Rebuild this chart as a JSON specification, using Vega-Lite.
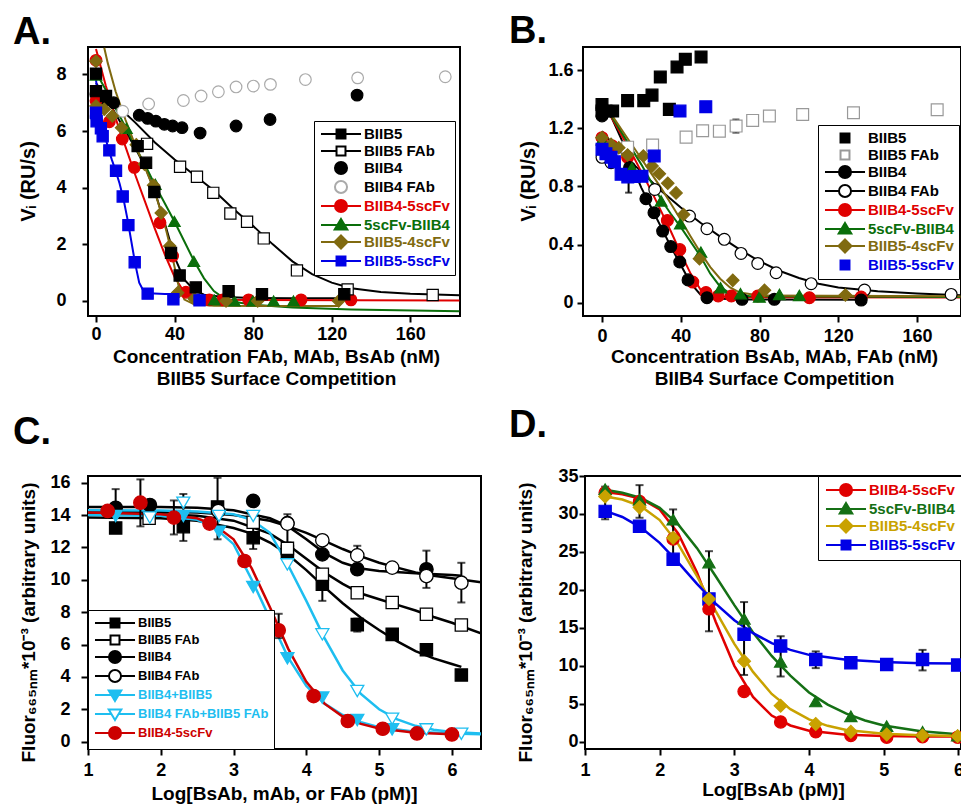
{
"$schema": "https://vega.github.io/schema/vega-lite/v6.json",
"padding": {"left": 12, "top": 12, "right": 0, "bottom": 0},
"spacing": 17,
"resolve": {"scale": {"fill": "independent", "stroke": "independent", "shape": "independent"}, "legend": {"fill": "independent", "stroke": "independent", "shape": "independent"}},
"config": {
  "font": "Liberation Sans",
  "view": {"stroke": "black", "strokeWidth": 2},
  "axis": {"grid": false, "domain": false, "labelFont": "Liberation Sans", "labelFontWeight": "bold", "labelFontSize": 18, "labelColor": "black", "titleFont": "Liberation Sans", "titleFontWeight": "bold", "titleFontSize": 19, "titleColor": "black", "tickColor": "black", "tickWidth": 2, "labelFlush": false, "labelOverlap": false},
  "title": {"font": "Liberation Sans", "fontWeight": "bold", "fontSize": 38, "anchor": "start", "frame": "group", "baseline": "alphabetic", "color": "black"},
  "legend": {"labelFont": "Liberation Sans", "labelFontWeight": "bold", "labelFontSize": 15, "labelLimit": 300, "symbolSize": 196, "symbolStrokeWidth": 2, "symbolOffset": 14, "labelOffset": 15, "rowPadding": -7, "padding": 5, "fillColor": "white", "strokeColor": "black", "symbolOpacity": 1}
},
"datasets": {
"aCurve": [
{"s":"BIIB5","x":0,"y":7.7},{"s":"BIIB5","x":5,"y":7.2},{"s":"BIIB5","x":10,"y":6.6},{"s":"BIIB5","x":15,"y":6.0},{"s":"BIIB5","x":20,"y":5.4},{"s":"BIIB5","x":25,"y":4.75},{"s":"BIIB5","x":30,"y":3.85},{"s":"BIIB5","x":35,"y":2.75},{"s":"BIIB5","x":40,"y":1.55},{"s":"BIIB5","x":45,"y":0.75},{"s":"BIIB5","x":50,"y":0.38},{"s":"BIIB5","x":55,"y":0.22},{"s":"BIIB5","x":65,"y":0.14},{"s":"BIIB5","x":80,"y":0.11},{"s":"BIIB5","x":100,"y":0.1},{"s":"BIIB5","x":130,"y":0.1},
{"s":"BIIB5 FAb","x":0,"y":7.5},{"s":"BIIB5 FAb","x":10,"y":6.95},{"s":"BIIB5 FAb","x":20,"y":6.3},{"s":"BIIB5 FAb","x":30,"y":5.6},{"s":"BIIB5 FAb","x":40,"y":5.0},{"s":"BIIB5 FAb","x":50,"y":4.45},{"s":"BIIB5 FAb","x":60,"y":3.9},{"s":"BIIB5 FAb","x":70,"y":3.25},{"s":"BIIB5 FAb","x":80,"y":2.65},{"s":"BIIB5 FAb","x":90,"y":2.0},{"s":"BIIB5 FAb","x":100,"y":1.4},{"s":"BIIB5 FAb","x":110,"y":0.95},{"s":"BIIB5 FAb","x":120,"y":0.65},{"s":"BIIB5 FAb","x":130,"y":0.45},{"s":"BIIB5 FAb","x":145,"y":0.32},{"s":"BIIB5 FAb","x":160,"y":0.26},{"s":"BIIB5 FAb","x":185,"y":0.2},
{"s":"BIIB4-5scFv","x":0,"y":8.9},{"s":"BIIB4-5scFv","x":5,"y":7.6},{"s":"BIIB4-5scFv","x":10,"y":6.45},{"s":"BIIB4-5scFv","x":15,"y":5.45},{"s":"BIIB4-5scFv","x":20,"y":4.45},{"s":"BIIB4-5scFv","x":25,"y":3.5},{"s":"BIIB4-5scFv","x":30,"y":2.55},{"s":"BIIB4-5scFv","x":35,"y":1.65},{"s":"BIIB4-5scFv","x":40,"y":0.85},{"s":"BIIB4-5scFv","x":45,"y":0.3},{"s":"BIIB4-5scFv","x":50,"y":0.1},{"s":"BIIB4-5scFv","x":60,"y":0.04},{"s":"BIIB4-5scFv","x":185,"y":0.02},
{"s":"5scFv-BIIB4","x":-1,"y":8.2},{"s":"5scFv-BIIB4","x":5,"y":7.45},{"s":"5scFv-BIIB4","x":10,"y":6.8},{"s":"5scFv-BIIB4","x":15,"y":6.15},{"s":"5scFv-BIIB4","x":20,"y":5.45},{"s":"5scFv-BIIB4","x":25,"y":4.8},{"s":"5scFv-BIIB4","x":30,"y":4.1},{"s":"5scFv-BIIB4","x":35,"y":3.45},{"s":"5scFv-BIIB4","x":40,"y":2.8},{"s":"5scFv-BIIB4","x":45,"y":2.1},{"s":"5scFv-BIIB4","x":50,"y":1.4},{"s":"5scFv-BIIB4","x":55,"y":0.8},{"s":"5scFv-BIIB4","x":60,"y":0.35},{"s":"5scFv-BIIB4","x":65,"y":0.1},{"s":"5scFv-BIIB4","x":70,"y":-0.03},{"s":"5scFv-BIIB4","x":80,"y":-0.13},{"s":"5scFv-BIIB4","x":100,"y":-0.23},{"s":"5scFv-BIIB4","x":130,"y":-0.3},{"s":"5scFv-BIIB4","x":185,"y":-0.36},
{"s":"BIIB5-4scFv","x":4.2,"y":8.94},{"s":"BIIB5-4scFv","x":6,"y":8.4},{"s":"BIIB5-4scFv","x":10,"y":7.4},{"s":"BIIB5-4scFv","x":15,"y":6.4},{"s":"BIIB5-4scFv","x":20,"y":5.5},{"s":"BIIB5-4scFv","x":25,"y":4.7},{"s":"BIIB5-4scFv","x":30,"y":3.85},{"s":"BIIB5-4scFv","x":35,"y":2.7},{"s":"BIIB5-4scFv","x":38,"y":1.85},{"s":"BIIB5-4scFv","x":40,"y":1.2},{"s":"BIIB5-4scFv","x":42,"y":0.55},{"s":"BIIB5-4scFv","x":45,"y":0.05},{"s":"BIIB5-4scFv","x":50,"y":-0.12},{"s":"BIIB5-4scFv","x":60,"y":-0.17},{"s":"BIIB5-4scFv","x":124,"y":-0.18},
{"s":"BIIB5-5scFv","x":0,"y":7.8},{"s":"BIIB5-5scFv","x":2,"y":6.8},{"s":"BIIB5-5scFv","x":4,"y":6.0},{"s":"BIIB5-5scFv","x":6,"y":5.45},{"s":"BIIB5-5scFv","x":8,"y":5.0},{"s":"BIIB5-5scFv","x":10,"y":4.6},{"s":"BIIB5-5scFv","x":12,"y":4.15},{"s":"BIIB5-5scFv","x":14,"y":3.6},{"s":"BIIB5-5scFv","x":16,"y":2.9},{"s":"BIIB5-5scFv","x":18,"y":2.1},{"s":"BIIB5-5scFv","x":20,"y":1.3},{"s":"BIIB5-5scFv","x":22,"y":0.65},{"s":"BIIB5-5scFv","x":24,"y":0.38},{"s":"BIIB5-5scFv","x":27,"y":0.27},{"s":"BIIB5-5scFv","x":35,"y":0.25},{"s":"BIIB5-5scFv","x":53,"y":0.23}
],
"aPts": [
{"s":"BIIB4 FAb","x":0,"y":6.5},{"s":"BIIB4 FAb","x":13.6,"y":6.7},{"s":"BIIB4 FAb","x":26.8,"y":6.96},{"s":"BIIB4 FAb","x":44.5,"y":7.08},{"s":"BIIB4 FAb","x":53.5,"y":7.24},{"s":"BIIB4 FAb","x":62.3,"y":7.39},{"s":"BIIB4 FAb","x":71.3,"y":7.56},{"s":"BIIB4 FAb","x":80.1,"y":7.59},{"s":"BIIB4 FAb","x":88.8,"y":7.65},{"s":"BIIB4 FAb","x":106.6,"y":7.82},{"s":"BIIB4 FAb","x":133.2,"y":7.88},{"s":"BIIB4 FAb","x":177.8,"y":7.92},
{"s":"BIIB4","x":0,"y":7.3},{"s":"BIIB4","x":5,"y":7.1},{"s":"BIIB4","x":9,"y":7.0},{"s":"BIIB4","x":22,"y":6.56},{"s":"BIIB4","x":26.3,"y":6.45},{"s":"BIIB4","x":30.5,"y":6.35},{"s":"BIIB4","x":34.8,"y":6.24},{"s":"BIIB4","x":39,"y":6.18},{"s":"BIIB4","x":43.8,"y":6.12},{"s":"BIIB4","x":53,"y":5.93},{"s":"BIIB4","x":71.3,"y":6.18},{"s":"BIIB4","x":88.6,"y":6.41},{"s":"BIIB4","x":132.9,"y":7.27},
{"s":"BIIB5 FAb","x":26,"y":5.55},{"s":"BIIB5 FAb","x":42.8,"y":4.74},{"s":"BIIB5 FAb","x":51.4,"y":4.39},{"s":"BIIB5 FAb","x":59.7,"y":3.82},{"s":"BIIB5 FAb","x":68.4,"y":3.09},{"s":"BIIB5 FAb","x":76.9,"y":2.8},{"s":"BIIB5 FAb","x":85.4,"y":2.21},{"s":"BIIB5 FAb","x":102.3,"y":1.08},{"s":"BIIB5 FAb","x":128.1,"y":0.41},{"s":"BIIB5 FAb","x":171.4,"y":0.21},
{"s":"BIIB5","x":0,"y":8.03},{"s":"BIIB5","x":0,"y":7.41},{"s":"BIIB5","x":5.1,"y":7.24},{"s":"BIIB5","x":21.2,"y":5.47},{"s":"BIIB5","x":25.5,"y":4.88},{"s":"BIIB5","x":29.7,"y":3.85},{"s":"BIIB5","x":38.2,"y":1.7},{"s":"BIIB5","x":42.6,"y":0.9},{"s":"BIIB5","x":50.8,"y":0.48},{"s":"BIIB5","x":67.5,"y":0.35},{"s":"BIIB5","x":84.5,"y":0.24},{"s":"BIIB5","x":126.4,"y":0.24},
{"s":"5scFv-BIIB4","x":0,"y":7.98},{"s":"5scFv-BIIB4","x":15.5,"y":6.1},{"s":"5scFv-BIIB4","x":30.2,"y":4.12},{"s":"5scFv-BIIB4","x":39.9,"y":2.81},{"s":"5scFv-BIIB4","x":49.8,"y":1.4},{"s":"5scFv-BIIB4","x":60.2,"y":0.04},{"s":"5scFv-BIIB4","x":70.4,"y":0},{"s":"5scFv-BIIB4","x":79.8,"y":0},{"s":"5scFv-BIIB4","x":90.4,"y":0},{"s":"5scFv-BIIB4","x":100.5,"y":0},
{"s":"BIIB5-4scFv","x":0,"y":8.47},{"s":"BIIB5-4scFv","x":0,"y":6.89},{"s":"BIIB5-4scFv","x":4.2,"y":6.77},{"s":"BIIB5-4scFv","x":8.3,"y":6.53},{"s":"BIIB5-4scFv","x":13,"y":6.12},{"s":"BIIB5-4scFv","x":20.5,"y":5.52},{"s":"BIIB5-4scFv","x":24.7,"y":4.83},{"s":"BIIB5-4scFv","x":29.3,"y":4.09},{"s":"BIIB5-4scFv","x":33.2,"y":3.11},{"s":"BIIB5-4scFv","x":37.5,"y":1.94},{"s":"BIIB5-4scFv","x":41.6,"y":0.29},{"s":"BIIB5-4scFv","x":50,"y":0.08},{"s":"BIIB5-4scFv","x":66.2,"y":0},{"s":"BIIB5-4scFv","x":82.3,"y":0},{"s":"BIIB5-4scFv","x":123.5,"y":0},
{"s":"BIIB4-5scFv","x":0,"y":8.5},{"s":"BIIB4-5scFv","x":0,"y":7.07},{"s":"BIIB4-5scFv","x":6.8,"y":6.33},{"s":"BIIB4-5scFv","x":13.4,"y":5.72},{"s":"BIIB4-5scFv","x":19.5,"y":4.72},{"s":"BIIB4-5scFv","x":32.6,"y":2.76},{"s":"BIIB4-5scFv","x":39,"y":1.59},{"s":"BIIB4-5scFv","x":45.8,"y":0.31},{"s":"BIIB4-5scFv","x":57.7,"y":0.04},{"s":"BIIB4-5scFv","x":64.5,"y":0.04},{"s":"BIIB4-5scFv","x":77.7,"y":0.04},{"s":"BIIB4-5scFv","x":104.4,"y":0.04},{"s":"BIIB4-5scFv","x":129.8,"y":0.04},
{"s":"BIIB5-5scFv","x":0,"y":6.65},{"s":"BIIB5-5scFv","x":0.3,"y":6.35},{"s":"BIIB5-5scFv","x":2.5,"y":6.1},{"s":"BIIB5-5scFv","x":3.4,"y":5.82},{"s":"BIIB5-5scFv","x":6.8,"y":5.32},{"s":"BIIB5-5scFv","x":10.2,"y":4.6},{"s":"BIIB5-5scFv","x":13.6,"y":3.69},{"s":"BIIB5-5scFv","x":16.5,"y":2.68},{"s":"BIIB5-5scFv","x":19.7,"y":1.37},{"s":"BIIB5-5scFv","x":26.3,"y":0.26},{"s":"BIIB5-5scFv","x":39.4,"y":0.06},{"s":"BIIB5-5scFv","x":52.7,"y":0.02}
],
"bCurve": [
{"s":"BIIB4","x":0,"y":1.37},{"s":"BIIB4","x":5,"y":1.27},{"s":"BIIB4","x":10,"y":1.12},{"s":"BIIB4","x":15,"y":0.95},{"s":"BIIB4","x":20,"y":0.79},{"s":"BIIB4","x":25,"y":0.655},{"s":"BIIB4","x":30,"y":0.52},{"s":"BIIB4","x":35,"y":0.385},{"s":"BIIB4","x":40,"y":0.26},{"s":"BIIB4","x":45,"y":0.135},{"s":"BIIB4","x":50,"y":0.055},{"s":"BIIB4","x":55,"y":0.03},{"s":"BIIB4","x":70,"y":0.022},{"s":"BIIB4","x":132,"y":0.02},
{"s":"BIIB4 FAb","x":0,"y":1.18},{"s":"BIIB4 FAb","x":5,"y":1.1},{"s":"BIIB4 FAb","x":10,"y":1.03},{"s":"BIIB4 FAb","x":20,"y":0.9},{"s":"BIIB4 FAb","x":30,"y":0.77},{"s":"BIIB4 FAb","x":40,"y":0.655},{"s":"BIIB4 FAb","x":50,"y":0.55},{"s":"BIIB4 FAb","x":60,"y":0.455},{"s":"BIIB4 FAb","x":70,"y":0.365},{"s":"BIIB4 FAb","x":80,"y":0.285},{"s":"BIIB4 FAb","x":90,"y":0.22},{"s":"BIIB4 FAb","x":100,"y":0.17},{"s":"BIIB4 FAb","x":110,"y":0.13},{"s":"BIIB4 FAb","x":120,"y":0.105},{"s":"BIIB4 FAb","x":140,"y":0.078},{"s":"BIIB4 FAb","x":160,"y":0.063},{"s":"BIIB4 FAb","x":182,"y":0.052},
{"s":"BIIB4-5scFv","x":0,"y":1.38},{"s":"BIIB4-5scFv","x":5,"y":1.27},{"s":"BIIB4-5scFv","x":10,"y":1.15},{"s":"BIIB4-5scFv","x":15,"y":1.03},{"s":"BIIB4-5scFv","x":20,"y":0.9},{"s":"BIIB4-5scFv","x":25,"y":0.77},{"s":"BIIB4-5scFv","x":30,"y":0.63},{"s":"BIIB4-5scFv","x":35,"y":0.49},{"s":"BIIB4-5scFv","x":40,"y":0.34},{"s":"BIIB4-5scFv","x":45,"y":0.2},{"s":"BIIB4-5scFv","x":50,"y":0.09},{"s":"BIIB4-5scFv","x":55,"y":0.05},{"s":"BIIB4-5scFv","x":65,"y":0.038},{"s":"BIIB4-5scFv","x":182,"y":0.035},
{"s":"5scFv-BIIB4","x":0,"y":1.38},{"s":"5scFv-BIIB4","x":5,"y":1.28},{"s":"5scFv-BIIB4","x":10,"y":1.17},{"s":"5scFv-BIIB4","x":15,"y":1.06},{"s":"5scFv-BIIB4","x":20,"y":0.95},{"s":"5scFv-BIIB4","x":25,"y":0.83},{"s":"5scFv-BIIB4","x":30,"y":0.71},{"s":"5scFv-BIIB4","x":35,"y":0.61},{"s":"5scFv-BIIB4","x":40,"y":0.52},{"s":"5scFv-BIIB4","x":45,"y":0.42},{"s":"5scFv-BIIB4","x":50,"y":0.32},{"s":"5scFv-BIIB4","x":55,"y":0.2},{"s":"5scFv-BIIB4","x":60,"y":0.11},{"s":"5scFv-BIIB4","x":65,"y":0.065},{"s":"5scFv-BIIB4","x":75,"y":0.045},{"s":"5scFv-BIIB4","x":182,"y":0.04},
{"s":"BIIB5-4scFv","x":0,"y":1.39},{"s":"BIIB5-4scFv","x":5,"y":1.29},{"s":"BIIB5-4scFv","x":10,"y":1.19},{"s":"BIIB5-4scFv","x":15,"y":1.09},{"s":"BIIB5-4scFv","x":20,"y":0.99},{"s":"BIIB5-4scFv","x":25,"y":0.89},{"s":"BIIB5-4scFv","x":30,"y":0.79},{"s":"BIIB5-4scFv","x":35,"y":0.68},{"s":"BIIB5-4scFv","x":40,"y":0.57},{"s":"BIIB5-4scFv","x":45,"y":0.455},{"s":"BIIB5-4scFv","x":50,"y":0.345},{"s":"BIIB5-4scFv","x":55,"y":0.245},{"s":"BIIB5-4scFv","x":60,"y":0.165},{"s":"BIIB5-4scFv","x":65,"y":0.105},{"s":"BIIB5-4scFv","x":70,"y":0.07},{"s":"BIIB5-4scFv","x":80,"y":0.05},{"s":"BIIB5-4scFv","x":182,"y":0.045}
],
"bPts": [
{"s":"BIIB5 FAb","x":13,"y":1.07},{"s":"BIIB5 FAb","x":25.7,"y":1.084},{"s":"BIIB5 FAb","x":42.7,"y":1.139},{"s":"BIIB5 FAb","x":51.1,"y":1.183},{"s":"BIIB5 FAb","x":59.6,"y":1.18},{"s":"BIIB5 FAb","x":68.1,"y":1.215},{"s":"BIIB5 FAb","x":76.5,"y":1.254},{"s":"BIIB5 FAb","x":85,"y":1.284},{"s":"BIIB5 FAb","x":101.9,"y":1.295},{"s":"BIIB5 FAb","x":127.7,"y":1.307},{"s":"BIIB5 FAb","x":170.2,"y":1.327},
{"s":"BIIB4 FAb","x":0,"y":1.0},{"s":"BIIB4 FAb","x":4.6,"y":0.963},{"s":"BIIB4 FAb","x":26.8,"y":0.779},{"s":"BIIB4 FAb","x":44.4,"y":0.596},{"s":"BIIB4 FAb","x":53.3,"y":0.509},{"s":"BIIB4 FAb","x":62.1,"y":0.436},{"s":"BIIB4 FAb","x":70.6,"y":0.339},{"s":"BIIB4 FAb","x":79.1,"y":0.27},{"s":"BIIB4 FAb","x":88.4,"y":0.206},{"s":"BIIB4 FAb","x":106.2,"y":0.131},{"s":"BIIB4 FAb","x":133.3,"y":0.087},{"s":"BIIB4 FAb","x":177.3,"y":0.057},
{"s":"BIIB5","x":0,"y":1.364},{"s":"BIIB5","x":0,"y":1.318},{"s":"BIIB5","x":5.4,"y":1.318},{"s":"BIIB5","x":13,"y":1.39},{"s":"BIIB5","x":21.2,"y":1.39},{"s":"BIIB5","x":25.4,"y":1.428},{"s":"BIIB5","x":29.6,"y":1.552},{"s":"BIIB5","x":34.2,"y":1.33},{"s":"BIIB5","x":38.1,"y":1.621},{"s":"BIIB5","x":42.3,"y":1.674},{"s":"BIIB5","x":50.3,"y":1.69},
{"s":"BIIB5-4scFv","x":0,"y":1.135},{"s":"BIIB5-4scFv","x":4.6,"y":1.089},{"s":"BIIB5-4scFv","x":8.5,"y":1.066},{"s":"BIIB5-4scFv","x":13,"y":1.016},{"s":"BIIB5-4scFv","x":21,"y":1.009},{"s":"BIIB5-4scFv","x":25.4,"y":0.94},{"s":"BIIB5-4scFv","x":29.1,"y":0.887},{"s":"BIIB5-4scFv","x":33.4,"y":0.822},{"s":"BIIB5-4scFv","x":37.6,"y":0.755},{"s":"BIIB5-4scFv","x":41.4,"y":0.606},{"s":"BIIB5-4scFv","x":49.5,"y":0.302},{"s":"BIIB5-4scFv","x":66.4,"y":0.154},{"s":"BIIB5-4scFv","x":82.5,"y":0.085},{"s":"BIIB5-4scFv","x":123.6,"y":0.053},
{"s":"5scFv-BIIB4","x":0,"y":1.12},{"s":"5scFv-BIIB4","x":15.2,"y":0.928},{"s":"5scFv-BIIB4","x":30,"y":0.7},{"s":"5scFv-BIIB4","x":39.8,"y":0.543},{"s":"5scFv-BIIB4","x":50.2,"y":0.348},{"s":"5scFv-BIIB4","x":60.2,"y":0.103},{"s":"5scFv-BIIB4","x":70.3,"y":0.062},{"s":"5scFv-BIIB4","x":79.9,"y":0.039},{"s":"5scFv-BIIB4","x":90.1,"y":0.057},{"s":"5scFv-BIIB4","x":100.2,"y":0.05},
{"s":"BIIB4-5scFv","x":0,"y":1.135},{"s":"BIIB4-5scFv","x":5,"y":1.08},{"s":"BIIB4-5scFv","x":13,"y":1.0},{"s":"BIIB4-5scFv","x":33.2,"y":0.566},{"s":"BIIB4-5scFv","x":39.5,"y":0.365},{"s":"BIIB4-5scFv","x":46.1,"y":0.142},{"s":"BIIB4-5scFv","x":52.8,"y":0.07},{"s":"BIIB4-5scFv","x":59,"y":0.046},{"s":"BIIB4-5scFv","x":65.7,"y":0.046},{"s":"BIIB4-5scFv","x":79.1,"y":0.046},{"s":"BIIB4-5scFv","x":105.3,"y":0.034},{"s":"BIIB4-5scFv","x":131.6,"y":0.039},
{"s":"BIIB4","x":0,"y":1.34},{"s":"BIIB4","x":0,"y":1.285},{"s":"BIIB4","x":4.6,"y":1.318},{"s":"BIIB4","x":14,"y":0.93},{"s":"BIIB4","x":22.3,"y":0.715},{"s":"BIIB4","x":26.4,"y":0.619},{"s":"BIIB4","x":30.8,"y":0.493},{"s":"BIIB4","x":34.9,"y":0.386},{"s":"BIIB4","x":39.5,"y":0.28},{"s":"BIIB4","x":43.7,"y":0.157},{"s":"BIIB4","x":53.3,"y":0.034},{"s":"BIIB4","x":71.1,"y":0.023},{"s":"BIIB4","x":87.5,"y":0.023},{"s":"BIIB4","x":131.6,"y":0.018},
{"s":"BIIB5-5scFv","x":0,"y":1.055},{"s":"BIIB5-5scFv","x":2,"y":1.025},{"s":"BIIB5-5scFv","x":4.6,"y":1.0},{"s":"BIIB5-5scFv","x":6.3,"y":0.97},{"s":"BIIB5-5scFv","x":9.7,"y":0.883},{"s":"BIIB5-5scFv","x":13.1,"y":0.865},{"s":"BIIB5-5scFv","x":16.5,"y":0.868},{"s":"BIIB5-5scFv","x":20.3,"y":0.87},{"s":"BIIB5-5scFv","x":26.5,"y":1.009},{"s":"BIIB5-5scFv","x":39.6,"y":1.318},{"s":"BIIB5-5scFv","x":52.7,"y":1.348}
],
"bErr": [{"x":13.5,"y":0.757,"y2":0.93},{"x":68,"y":1.17,"y2":1.26}],
"cCurve": [
{"s":"BIIB5","x":1,"y":13.85},{"s":"BIIB5","x":2,"y":13.8},{"s":"BIIB5","x":2.5,"y":13.65},{"s":"BIIB5","x":3,"y":13.2},{"s":"BIIB5","x":3.25,"y":12.85},{"s":"BIIB5","x":3.5,"y":12.3},{"s":"BIIB5","x":3.75,"y":11.55},{"s":"BIIB5","x":4,"y":10.6},{"s":"BIIB5","x":4.25,"y":9.55},{"s":"BIIB5","x":4.5,"y":8.55},{"s":"BIIB5","x":4.75,"y":7.65},{"s":"BIIB5","x":5,"y":6.9},{"s":"BIIB5","x":5.25,"y":6.2},{"s":"BIIB5","x":5.5,"y":5.6},{"s":"BIIB5","x":5.75,"y":5.15},{"s":"BIIB5","x":6,"y":4.8},{"s":"BIIB5","x":6.13,"y":4.62},
{"s":"BIIB5 FAb","x":1,"y":14.1},{"s":"BIIB5 FAb","x":2,"y":14.05},{"s":"BIIB5 FAb","x":2.5,"y":13.95},{"s":"BIIB5 FAb","x":3,"y":13.65},{"s":"BIIB5 FAb","x":3.5,"y":12.85},{"s":"BIIB5 FAb","x":3.75,"y":12.15},{"s":"BIIB5 FAb","x":4,"y":11.3},{"s":"BIIB5 FAb","x":4.25,"y":10.45},{"s":"BIIB5 FAb","x":4.5,"y":9.75},{"s":"BIIB5 FAb","x":4.75,"y":9.15},{"s":"BIIB5 FAb","x":5,"y":8.8},{"s":"BIIB5 FAb","x":5.25,"y":8.45},{"s":"BIIB5 FAb","x":5.5,"y":8.1},{"s":"BIIB5 FAb","x":5.75,"y":7.7},{"s":"BIIB5 FAb","x":6,"y":7.35},{"s":"BIIB5 FAb","x":6.4,"y":6.7},
{"s":"BIIB4","x":1,"y":14.5},{"s":"BIIB4","x":2,"y":14.5},{"s":"BIIB4","x":2.5,"y":14.45},{"s":"BIIB4","x":3,"y":14.3},{"s":"BIIB4","x":3.5,"y":13.8},{"s":"BIIB4","x":3.75,"y":13.3},{"s":"BIIB4","x":4,"y":12.5},{"s":"BIIB4","x":4.25,"y":11.65},{"s":"BIIB4","x":4.5,"y":11.05},{"s":"BIIB4","x":4.75,"y":10.7},{"s":"BIIB4","x":5,"y":10.55},{"s":"BIIB4","x":5.5,"y":10.4},{"s":"BIIB4","x":6,"y":10.3},{"s":"BIIB4","x":6.13,"y":10.25},
{"s":"BIIB4 FAb","x":1,"y":14.2},{"s":"BIIB4 FAb","x":2,"y":14.2},{"s":"BIIB4 FAb","x":2.5,"y":14.15},{"s":"BIIB4 FAb","x":3,"y":14.0},{"s":"BIIB4 FAb","x":3.5,"y":13.65},{"s":"BIIB4 FAb","x":3.75,"y":13.3},{"s":"BIIB4 FAb","x":4,"y":12.9},{"s":"BIIB4 FAb","x":4.25,"y":12.4},{"s":"BIIB4 FAb","x":4.5,"y":11.9},{"s":"BIIB4 FAb","x":4.75,"y":11.45},{"s":"BIIB4 FAb","x":5,"y":11.05},{"s":"BIIB4 FAb","x":5.25,"y":10.75},{"s":"BIIB4 FAb","x":5.5,"y":10.45},{"s":"BIIB4 FAb","x":5.75,"y":10.25},{"s":"BIIB4 FAb","x":6,"y":10.1},{"s":"BIIB4 FAb","x":6.4,"y":9.85},
{"s":"BIIB4 FAb+BIIB5 FAb","x":1,"y":14.3},{"s":"BIIB4 FAb+BIIB5 FAb","x":2,"y":14.28},{"s":"BIIB4 FAb+BIIB5 FAb","x":2.5,"y":14.22},{"s":"BIIB4 FAb+BIIB5 FAb","x":3,"y":14.05},{"s":"BIIB4 FAb+BIIB5 FAb","x":3.25,"y":13.7},{"s":"BIIB4 FAb+BIIB5 FAb","x":3.5,"y":12.9},{"s":"BIIB4 FAb+BIIB5 FAb","x":3.75,"y":10.9},{"s":"BIIB4 FAb+BIIB5 FAb","x":4,"y":8.7},{"s":"BIIB4 FAb+BIIB5 FAb","x":4.25,"y":6.4},{"s":"BIIB4 FAb+BIIB5 FAb","x":4.5,"y":4.4},{"s":"BIIB4 FAb+BIIB5 FAb","x":4.75,"y":2.95},{"s":"BIIB4 FAb+BIIB5 FAb","x":5,"y":2.0},{"s":"BIIB4 FAb+BIIB5 FAb","x":5.25,"y":1.38},{"s":"BIIB4 FAb+BIIB5 FAb","x":5.5,"y":0.98},{"s":"BIIB4 FAb+BIIB5 FAb","x":5.75,"y":0.74},{"s":"BIIB4 FAb+BIIB5 FAb","x":6,"y":0.6},{"s":"BIIB4 FAb+BIIB5 FAb","x":6.4,"y":0.5},
{"s":"BIIB4+BIIB5","x":1,"y":14.0},{"s":"BIIB4+BIIB5","x":2,"y":13.95},{"s":"BIIB4+BIIB5","x":2.5,"y":13.7},{"s":"BIIB4+BIIB5","x":2.75,"y":13.2},{"s":"BIIB4+BIIB5","x":3,"y":12.2},{"s":"BIIB4+BIIB5","x":3.25,"y":10.0},{"s":"BIIB4+BIIB5","x":3.5,"y":7.6},{"s":"BIIB4+BIIB5","x":3.75,"y":5.2},{"s":"BIIB4+BIIB5","x":4,"y":3.45},{"s":"BIIB4+BIIB5","x":4.25,"y":2.35},{"s":"BIIB4+BIIB5","x":4.5,"y":1.65},{"s":"BIIB4+BIIB5","x":4.75,"y":1.2},{"s":"BIIB4+BIIB5","x":5,"y":0.9},{"s":"BIIB4+BIIB5","x":5.5,"y":0.62},{"s":"BIIB4+BIIB5","x":6,"y":0.5},{"s":"BIIB4+BIIB5","x":6.4,"y":0.46},
{"s":"BIIB4-5scFv","x":1,"y":14.15},{"s":"BIIB4-5scFv","x":2,"y":14.05},{"s":"BIIB4-5scFv","x":2.5,"y":13.8},{"s":"BIIB4-5scFv","x":2.75,"y":13.35},{"s":"BIIB4-5scFv","x":3,"y":12.5},{"s":"BIIB4-5scFv","x":3.25,"y":10.7},{"s":"BIIB4-5scFv","x":3.5,"y":8.3},{"s":"BIIB4-5scFv","x":3.75,"y":5.75},{"s":"BIIB4-5scFv","x":4,"y":3.7},{"s":"BIIB4-5scFv","x":4.25,"y":2.35},{"s":"BIIB4-5scFv","x":4.5,"y":1.55},{"s":"BIIB4-5scFv","x":4.75,"y":1.1},{"s":"BIIB4-5scFv","x":5,"y":0.82},{"s":"BIIB4-5scFv","x":5.5,"y":0.55},{"s":"BIIB4-5scFv","x":6,"y":0.46}
],
"cPts": [
{"s":"BIIB5","x":1.38,"y":13.2},{"s":"BIIB5","x":2.31,"y":13.28},{"s":"BIIB5","x":2.78,"y":14.5},{"s":"BIIB5","x":3.27,"y":12.6},{"s":"BIIB5","x":3.74,"y":11.75},{"s":"BIIB5","x":4.22,"y":9.72},{"s":"BIIB5","x":4.7,"y":7.23},{"s":"BIIB5","x":5.18,"y":6.63},{"s":"BIIB5","x":5.65,"y":5.68},{"s":"BIIB5","x":6.13,"y":4.12},
{"s":"BIIB5 FAb","x":1.84,"y":13.8},{"s":"BIIB5 FAb","x":3.27,"y":13.55},{"s":"BIIB5 FAb","x":3.74,"y":11.94},{"s":"BIIB5 FAb","x":4.22,"y":10.34},{"s":"BIIB5 FAb","x":4.7,"y":9.2},{"s":"BIIB5 FAb","x":5.18,"y":8.6},{"s":"BIIB5 FAb","x":5.65,"y":7.87},{"s":"BIIB5 FAb","x":6.13,"y":7.21},
{"s":"BIIB4","x":1.38,"y":14.45},{"s":"BIIB4","x":1.85,"y":14.62},{"s":"BIIB4","x":3.27,"y":14.87},{"s":"BIIB4","x":3.74,"y":13.5},{"s":"BIIB4","x":4.22,"y":11.57},{"s":"BIIB4","x":4.7,"y":10.65},{"s":"BIIB4","x":5.65,"y":10.65},
{"s":"BIIB4 FAb","x":2.79,"y":14.25},{"s":"BIIB4 FAb","x":3.74,"y":13.47},{"s":"BIIB4 FAb","x":4.22,"y":12.44},{"s":"BIIB4 FAb","x":4.7,"y":11.51},{"s":"BIIB4 FAb","x":5.18,"y":10.75},{"s":"BIIB4 FAb","x":5.65,"y":10.23},{"s":"BIIB4 FAb","x":6.13,"y":9.82},
{"s":"BIIB4+BIIB5","x":1.38,"y":13.94},{"s":"BIIB4+BIIB5","x":2.31,"y":13.94},{"s":"BIIB4+BIIB5","x":2.8,"y":12.97},{"s":"BIIB4+BIIB5","x":3.27,"y":9.55},{"s":"BIIB4+BIIB5","x":3.74,"y":5.15},{"s":"BIIB4+BIIB5","x":4.22,"y":2.72},{"s":"BIIB4+BIIB5","x":4.7,"y":1.34},{"s":"BIIB4+BIIB5","x":5.18,"y":0.76},
{"s":"BIIB4 FAb+BIIB5 FAb","x":1.85,"y":13.84},{"s":"BIIB4 FAb+BIIB5 FAb","x":2.31,"y":14.76},{"s":"BIIB4 FAb+BIIB5 FAb","x":2.8,"y":13.94},{"s":"BIIB4 FAb+BIIB5 FAb","x":3.27,"y":13.94},{"s":"BIIB4 FAb+BIIB5 FAb","x":3.74,"y":10.95},{"s":"BIIB4 FAb+BIIB5 FAb","x":4.22,"y":6.63},{"s":"BIIB4 FAb+BIIB5 FAb","x":4.7,"y":3.13},{"s":"BIIB4 FAb+BIIB5 FAb","x":5.18,"y":1.42},{"s":"BIIB4 FAb+BIIB5 FAb","x":5.65,"y":0.76},{"s":"BIIB4 FAb+BIIB5 FAb","x":6.13,"y":0.49},
{"s":"BIIB4-5scFv","x":1.27,"y":14.25},{"s":"BIIB4-5scFv","x":1.72,"y":14.76},{"s":"BIIB4-5scFv","x":2.18,"y":13.84},{"s":"BIIB4-5scFv","x":2.67,"y":13.47},{"s":"BIIB4-5scFv","x":3.15,"y":11.16},{"s":"BIIB4-5scFv","x":3.62,"y":6.88},{"s":"BIIB4-5scFv","x":4.1,"y":2.82},{"s":"BIIB4-5scFv","x":4.57,"y":1.28},{"s":"BIIB4-5scFv","x":5.05,"y":0.8},{"s":"BIIB4-5scFv","x":5.52,"y":0.51},{"s":"BIIB4-5scFv","x":6.0,"y":0.45}
],
"cErr": [{"x":1.38,"y":13.0,"y2":15.6},{"x":1.72,"y":13.3,"y2":16.2},{"x":2.18,"y":12.8,"y2":14.9},{"x":2.31,"y":12.4,"y2":15.3},{"x":2.78,"y":12.5,"y2":16.3},{"x":3.27,"y":11.9,"y2":13.6},{"x":3.74,"y":12.3,"y2":14.05},{"x":3.62,"y":6.4,"y2":7.9},{"x":4.22,"y":8.7,"y2":10.6},{"x":4.7,"y":11.0,"y2":12.1},{"x":4.7,"y":6.8,"y2":7.6},{"x":5.65,"y":9.5,"y2":11.8},{"x":5.65,"y":7.6,"y2":8.2},{"x":6.13,"y":8.6,"y2":11.05}],
"dCurve": [
{"s":"BIIB4-5scFv","x":1.27,"y":32.9},{"s":"BIIB4-5scFv","x":1.5,"y":32.6},{"s":"BIIB4-5scFv","x":1.75,"y":32.0},{"s":"BIIB4-5scFv","x":2,"y":30.6},{"s":"BIIB4-5scFv","x":2.25,"y":27.4},{"s":"BIIB4-5scFv","x":2.5,"y":22.3},{"s":"BIIB4-5scFv","x":2.75,"y":15.8},{"s":"BIIB4-5scFv","x":3,"y":10.0},{"s":"BIIB4-5scFv","x":3.25,"y":5.9},{"s":"BIIB4-5scFv","x":3.5,"y":3.45},{"s":"BIIB4-5scFv","x":3.75,"y":2.15},{"s":"BIIB4-5scFv","x":4,"y":1.45},{"s":"BIIB4-5scFv","x":4.5,"y":0.92},{"s":"BIIB4-5scFv","x":5,"y":0.75},{"s":"BIIB4-5scFv","x":5.5,"y":0.7},{"s":"BIIB4-5scFv","x":6.03,"y":0.68},
{"s":"5scFv-BIIB4","x":1.27,"y":33.2},{"s":"5scFv-BIIB4","x":1.5,"y":32.8},{"s":"5scFv-BIIB4","x":1.75,"y":32.1},{"s":"5scFv-BIIB4","x":2,"y":30.8},{"s":"5scFv-BIIB4","x":2.25,"y":28.6},{"s":"5scFv-BIIB4","x":2.5,"y":25.5},{"s":"5scFv-BIIB4","x":2.75,"y":21.8},{"s":"5scFv-BIIB4","x":3,"y":18.0},{"s":"5scFv-BIIB4","x":3.25,"y":14.4},{"s":"5scFv-BIIB4","x":3.5,"y":11.3},{"s":"5scFv-BIIB4","x":3.75,"y":8.7},{"s":"5scFv-BIIB4","x":4,"y":6.5},{"s":"5scFv-BIIB4","x":4.25,"y":4.9},{"s":"5scFv-BIIB4","x":4.5,"y":3.7},{"s":"5scFv-BIIB4","x":4.75,"y":2.8},{"s":"5scFv-BIIB4","x":5,"y":2.15},{"s":"5scFv-BIIB4","x":5.5,"y":1.4},{"s":"5scFv-BIIB4","x":6.03,"y":0.95},
{"s":"BIIB5-4scFv","x":1.27,"y":32.3},{"s":"BIIB5-4scFv","x":1.5,"y":31.9},{"s":"BIIB5-4scFv","x":1.75,"y":31.0},{"s":"BIIB5-4scFv","x":2,"y":29.2},{"s":"BIIB5-4scFv","x":2.25,"y":26.0},{"s":"BIIB5-4scFv","x":2.5,"y":21.8},{"s":"BIIB5-4scFv","x":2.75,"y":17.2},{"s":"BIIB5-4scFv","x":3,"y":12.9},{"s":"BIIB5-4scFv","x":3.25,"y":9.2},{"s":"BIIB5-4scFv","x":3.5,"y":6.3},{"s":"BIIB5-4scFv","x":3.75,"y":4.3},{"s":"BIIB5-4scFv","x":4,"y":2.95},{"s":"BIIB5-4scFv","x":4.25,"y":2.1},{"s":"BIIB5-4scFv","x":4.5,"y":1.55},{"s":"BIIB5-4scFv","x":5,"y":1.05},{"s":"BIIB5-4scFv","x":5.5,"y":0.85},{"s":"BIIB5-4scFv","x":6.03,"y":0.75},
{"s":"BIIB5-5scFv","x":1.27,"y":30.4},{"s":"BIIB5-5scFv","x":1.5,"y":29.6},{"s":"BIIB5-5scFv","x":1.75,"y":28.2},{"s":"BIIB5-5scFv","x":2,"y":26.2},{"s":"BIIB5-5scFv","x":2.25,"y":23.6},{"s":"BIIB5-5scFv","x":2.5,"y":20.8},{"s":"BIIB5-5scFv","x":2.75,"y":18.2},{"s":"BIIB5-5scFv","x":3,"y":16.0},{"s":"BIIB5-5scFv","x":3.25,"y":14.3},{"s":"BIIB5-5scFv","x":3.5,"y":13.0},{"s":"BIIB5-5scFv","x":3.75,"y":12.1},{"s":"BIIB5-5scFv","x":4,"y":11.45},{"s":"BIIB5-5scFv","x":4.5,"y":10.8},{"s":"BIIB5-5scFv","x":5,"y":10.5},{"s":"BIIB5-5scFv","x":5.5,"y":10.35},{"s":"BIIB5-5scFv","x":6.03,"y":10.3}
],
"dPts": [
{"s":"BIIB5-5scFv","x":1.27,"y":30.34},{"s":"BIIB5-5scFv","x":1.73,"y":28.38},{"s":"BIIB5-5scFv","x":2.18,"y":24.03},{"s":"BIIB5-5scFv","x":2.66,"y":18.8},{"s":"BIIB5-5scFv","x":3.13,"y":14.15},{"s":"BIIB5-5scFv","x":3.62,"y":12.62},{"s":"BIIB5-5scFv","x":4.09,"y":10.84},{"s":"BIIB5-5scFv","x":4.56,"y":10.4},{"s":"BIIB5-5scFv","x":5.04,"y":10.19},{"s":"BIIB5-5scFv","x":5.52,"y":10.84},{"s":"BIIB5-5scFv","x":5.99,"y":10.1},
{"s":"BIIB4-5scFv","x":1.27,"y":32.8},{"s":"BIIB4-5scFv","x":1.73,"y":31.65},{"s":"BIIB4-5scFv","x":2.18,"y":26.7},{"s":"BIIB4-5scFv","x":2.66,"y":17.5},{"s":"BIIB4-5scFv","x":3.13,"y":6.62},{"s":"BIIB4-5scFv","x":3.62,"y":2.61},{"s":"BIIB4-5scFv","x":4.09,"y":1.31},{"s":"BIIB4-5scFv","x":4.56,"y":0.83},{"s":"BIIB4-5scFv","x":5.04,"y":0.61},{"s":"BIIB4-5scFv","x":5.52,"y":0.65},{"s":"BIIB4-5scFv","x":5.99,"y":0.61},
{"s":"5scFv-BIIB4","x":1.27,"y":33.26},{"s":"5scFv-BIIB4","x":1.73,"y":31.87},{"s":"5scFv-BIIB4","x":2.18,"y":29.26},{"s":"5scFv-BIIB4","x":2.66,"y":23.6},{"s":"5scFv-BIIB4","x":3.13,"y":16.2},{"s":"5scFv-BIIB4","x":3.62,"y":10.54},{"s":"5scFv-BIIB4","x":4.09,"y":5.31},{"s":"5scFv-BIIB4","x":4.56,"y":3.35},{"s":"5scFv-BIIB4","x":5.04,"y":2.05},{"s":"5scFv-BIIB4","x":5.52,"y":1.31},{"s":"5scFv-BIIB4","x":5.99,"y":0.83},
{"s":"BIIB5-4scFv","x":1.27,"y":32.3},{"s":"BIIB5-4scFv","x":1.73,"y":30.87},{"s":"BIIB5-4scFv","x":2.18,"y":26.86},{"s":"BIIB5-4scFv","x":2.66,"y":18.8},{"s":"BIIB5-4scFv","x":3.13,"y":10.62},{"s":"BIIB5-4scFv","x":3.62,"y":4.75},{"s":"BIIB5-4scFv","x":4.09,"y":2.35},{"s":"BIIB5-4scFv","x":4.56,"y":1.31},{"s":"BIIB5-4scFv","x":5.04,"y":0.96},{"s":"BIIB5-4scFv","x":5.52,"y":0.83},{"s":"BIIB5-4scFv","x":5.99,"y":0.74}
],
"dErr": [{"x":1.27,"y":29.3,"y2":33.6},{"x":1.73,"y":29.5,"y2":33.8},{"x":2.18,"y":24.5,"y2":30.6},{"x":2.66,"y":14.55,"y2":25.1},{"x":3.13,"y":8.8,"y2":18.4},{"x":3.62,"y":8.6,"y2":13.9},{"x":4.09,"y":9.7,"y2":11.9},{"x":5.52,"y":9.4,"y2":12.1}]
},
"vconcat": [
{"hconcat": [
{
 "width": 372, "height": 269,
 "title": {"text": "A.", "dx": -75, "offset": -5},
 "encoding": {
  "x": {"field": "x", "type": "quantitative", "scale": {"domain": [-4.07, 185.3], "nice": false, "zero": false},
        "axis": {"title": ["Concentration FAb, MAb, BsAb (nM)", "BIIB5 Surface Competition"], "titleLineHeight": 22, "titleX": 188, "titleY": 31, "values": [0,40,80,120,160], "tickSize": 6, "labelPadding": 3}},
  "y": {"field": "y", "type": "quantitative", "scale": {"domain": [-0.53, 8.97], "nice": false, "zero": false},
        "axis": {"title": "Vᵢ (RU/s)", "titleFontSize": 20, "titleX": -50, "titleY": 134, "values": [0,2,4,6,8], "tickSize": 6, "labelPadding": 16}}
 },
 "layer": [
  {"data": {"name": "aPts"}, "transform": [{"filter": "false"}], "mark": {"type": "point", "filled": true},
   "encoding": {
    "shape": {"field": "s", "type": "nominal",
      "scale": {"domain": ["BIIB5","BIIB5 FAb","BIIB4","BIIB4 FAb","BIIB4-5scFv","5scFv-BIIB4","BIIB5-4scFv","BIIB5-5scFv"], "range": ["M-2.86,0H-0.64M0.64,0H2.86M-0.64,-0.64H0.64V0.64H-0.64Z","M-2.86,0H-0.64M0.64,0H2.86M-0.64,-0.64H0.64V0.64H-0.64Z","M-0.86,0A0.86,0.86,0,1,0,0.86,0A0.86,0.86,0,1,0,-0.86,0Z","M-0.86,0A0.86,0.86,0,1,0,0.86,0A0.86,0.86,0,1,0,-0.86,0Z","M-2.86,0H-0.86M0.86,0H2.86M-0.86,0A0.86,0.86,0,1,0,0.86,0A0.86,0.86,0,1,0,-0.86,0Z","M-2.86,0H-0.5M0.5,0H2.86M0,-0.86L0.9,0.64L-0.9,0.64Z","M-2.86,0H-0.93M0.93,0H2.86M0,-0.93L0.93,0L0,0.93L-0.93,0Z","M-2.86,0H-0.64M0.64,0H2.86M-0.64,-0.64H0.64V0.64H-0.64Z"]},
      "legend": {"title": null, "orient": "none", "legendX": 226, "legendY": 74, "labelFontSize": 15, "labelFont": "Liberation Sans", "labelFontWeight": "bold", "symbolSize": 196, "symbolStrokeWidth": 2, "symbolOffset": 14, "labelOffset": 15, "rowPadding": -7, "padding": 5, "fillColor": "white", "strokeColor": "black", "symbolOpacity": 1, "labelLimit": 300,
        "labelColor": {"expr": "datum.label == 'BIIB4-5scFv' ? '#e00000' : datum.label == '5scFv-BIIB4' ? '#0a6e0a' : datum.label == 'BIIB5-4scFv' ? '#806a10' : datum.label == 'BIIB5-5scFv' ? '#0000e6' : 'black'"}}},
    "fill": {"field": "s", "type": "nominal",
      "scale": {"domain": ["BIIB5","BIIB5 FAb","BIIB4","BIIB4 FAb","BIIB4-5scFv","5scFv-BIIB4","BIIB5-4scFv","BIIB5-5scFv"], "range": ["black","white","black","white","#e00000","#0a6e0a","#806a10","#0000e6"]},
      "legend": {"title": null, "orient": "none", "legendX": 226, "legendY": 74, "labelFontSize": 15, "labelFont": "Liberation Sans", "labelFontWeight": "bold", "symbolSize": 196, "symbolStrokeWidth": 2, "symbolOffset": 14, "labelOffset": 15, "rowPadding": -7, "padding": 5, "fillColor": "white", "strokeColor": "black", "symbolOpacity": 1, "labelLimit": 300,
        "labelColor": {"expr": "datum.label == 'BIIB4-5scFv' ? '#e00000' : datum.label == '5scFv-BIIB4' ? '#0a6e0a' : datum.label == 'BIIB5-4scFv' ? '#806a10' : datum.label == 'BIIB5-5scFv' ? '#0000e6' : 'black'"}}},
    "stroke": {"field": "s", "type": "nominal",
      "scale": {"domain": ["BIIB5","BIIB5 FAb","BIIB4","BIIB4 FAb","BIIB4-5scFv","5scFv-BIIB4","BIIB5-4scFv","BIIB5-5scFv"], "range": ["black","black","black","#aaaaaa","#e00000","#0a6e0a","#806a10","#0000e6"]},
      "legend": {"title": null, "orient": "none", "legendX": 226, "legendY": 74, "labelFontSize": 15, "labelFont": "Liberation Sans", "labelFontWeight": "bold", "symbolSize": 196, "symbolStrokeWidth": 2, "symbolOffset": 14, "labelOffset": 15, "rowPadding": -7, "padding": 5, "fillColor": "white", "strokeColor": "black", "symbolOpacity": 1, "labelLimit": 300,
        "labelColor": {"expr": "datum.label == 'BIIB4-5scFv' ? '#e00000' : datum.label == '5scFv-BIIB4' ? '#0a6e0a' : datum.label == 'BIIB5-4scFv' ? '#806a10' : datum.label == 'BIIB5-5scFv' ? '#0000e6' : 'black'"}}}
   }},
  {"data": {"name": "aCurve"}, "mark": {"type": "line", "strokeWidth": 2, "clip": true},
   "encoding": {"stroke": {"field": "s", "type": "nominal"}}},
  {"data": {"name": "aPts"}, "transform": [{"filter": {"field": "s", "oneOf": ["BIIB4","BIIB4 FAb","BIIB4-5scFv"]}}],
   "mark": {"type": "point", "shape": "circle", "filled": true, "size": 135, "strokeWidth": 1.2, "opacity": 1, "clip": true},
   "encoding": {"fill": {"field": "s", "type": "nominal"}, "stroke": {"field": "s", "type": "nominal"}}},
  {"data": {"name": "aPts"}, "transform": [{"filter": {"field": "s", "oneOf": ["5scFv-BIIB4"]}}],
   "mark": {"type": "point", "shape": "triangle-up", "filled": true, "size": 135, "strokeWidth": 1.2, "opacity": 1, "clip": true},
   "encoding": {"fill": {"field": "s", "type": "nominal"}, "stroke": {"field": "s", "type": "nominal"}}},
  {"data": {"name": "aPts"}, "transform": [{"filter": {"field": "s", "oneOf": ["BIIB5-4scFv"]}}],
   "mark": {"type": "point", "shape": "diamond", "filled": true, "size": 150, "strokeWidth": 1.2, "opacity": 1, "clip": true},
   "encoding": {"fill": {"field": "s", "type": "nominal"}, "stroke": {"field": "s", "type": "nominal"}}},
  {"data": {"name": "aPts"}, "transform": [{"filter": {"field": "s", "oneOf": ["BIIB5","BIIB5 FAb","BIIB5-5scFv"]}}],
   "mark": {"type": "point", "shape": "square", "filled": true, "size": 125, "strokeWidth": 1.2, "opacity": 1, "clip": true},
   "encoding": {"fill": {"field": "s", "type": "nominal"}, "stroke": {"field": "s", "type": "nominal"}}}
 ]
},
{
 "width": 378, "height": 269,
 "title": {"text": "B.", "dx": -74, "offset": -4},
 "encoding": {
  "x": {"field": "x", "type": "quantitative", "scale": {"domain": [-9.65, 182.3], "nice": false, "zero": false},
        "axis": {"title": ["Concentration BsAb, MAb, FAb (nM)", "BIIB4 Surface Competition"], "titleLineHeight": 22, "titleX": 191, "titleY": 31, "values": [0,40,80,120,160], "tickSize": 6, "labelPadding": 5}},
  "y": {"field": "y", "type": "quantitative", "scale": {"domain": [-0.0915, 1.759], "nice": false, "zero": false},
        "axis": {"title": "Vᵢ (RU/s)", "titleFontSize": 20, "titleX": -45, "titleY": 134, "values": [0,0.4,0.8,1.2,1.6], "labelExpr": "datum.value == 0 ? '0' : format(datum.value, '.1f')", "tickSize": 6, "labelPadding": 4}}
 },
 "layer": [
  {"data": {"name": "bPts"}, "transform": [{"filter": "false"}], "mark": {"type": "point", "filled": true},
   "encoding": {
    "shape": {"field": "s", "type": "nominal",
      "scale": {"domain": ["BIIB5","BIIB5 FAb","BIIB4","BIIB4 FAb","BIIB4-5scFv","5scFv-BIIB4","BIIB5-4scFv","BIIB5-5scFv"], "range": ["M-0.64,-0.64H0.64V0.64H-0.64Z","M-0.64,-0.64H0.64V0.64H-0.64Z","M-2.86,0H-0.86M0.86,0H2.86M-0.86,0A0.86,0.86,0,1,0,0.86,0A0.86,0.86,0,1,0,-0.86,0Z","M-2.86,0H-0.86M0.86,0H2.86M-0.86,0A0.86,0.86,0,1,0,0.86,0A0.86,0.86,0,1,0,-0.86,0Z","M-2.86,0H-0.86M0.86,0H2.86M-0.86,0A0.86,0.86,0,1,0,0.86,0A0.86,0.86,0,1,0,-0.86,0Z","M-2.86,0H-0.5M0.5,0H2.86M0,-0.86L0.9,0.64L-0.9,0.64Z","M-2.86,0H-0.93M0.93,0H2.86M0,-0.93L0.93,0L0,0.93L-0.93,0Z","M-0.64,-0.64H0.64V0.64H-0.64Z"]},
      "legend": {"title": null, "orient": "none", "legendX": 235, "legendY": 78, "labelFontSize": 15, "labelFont": "Liberation Sans", "labelFontWeight": "bold", "symbolSize": 196, "symbolStrokeWidth": 2, "symbolOffset": 14, "labelOffset": 15, "rowPadding": -7, "padding": 5, "fillColor": "white", "strokeColor": "black", "symbolOpacity": 1, "labelLimit": 300,
        "labelColor": {"expr": "datum.label == 'BIIB4-5scFv' ? '#e00000' : datum.label == '5scFv-BIIB4' ? '#0a6e0a' : datum.label == 'BIIB5-4scFv' ? '#806a10' : datum.label == 'BIIB5-5scFv' ? '#0000e6' : 'black'"}}},
    "fill": {"field": "s", "type": "nominal",
      "scale": {"domain": ["BIIB5","BIIB5 FAb","BIIB4","BIIB4 FAb","BIIB4-5scFv","5scFv-BIIB4","BIIB5-4scFv","BIIB5-5scFv"], "range": ["black","white","black","white","#e00000","#0a6e0a","#806a10","#0000e6"]},
      "legend": {"title": null, "orient": "none", "legendX": 235, "legendY": 78, "labelFontSize": 15, "labelFont": "Liberation Sans", "labelFontWeight": "bold", "symbolSize": 196, "symbolStrokeWidth": 2, "symbolOffset": 14, "labelOffset": 15, "rowPadding": -7, "padding": 5, "fillColor": "white", "strokeColor": "black", "symbolOpacity": 1, "labelLimit": 300,
        "labelColor": {"expr": "datum.label == 'BIIB4-5scFv' ? '#e00000' : datum.label == '5scFv-BIIB4' ? '#0a6e0a' : datum.label == 'BIIB5-4scFv' ? '#806a10' : datum.label == 'BIIB5-5scFv' ? '#0000e6' : 'black'"}}},
    "stroke": {"field": "s", "type": "nominal",
      "scale": {"domain": ["BIIB5","BIIB5 FAb","BIIB4","BIIB4 FAb","BIIB4-5scFv","5scFv-BIIB4","BIIB5-4scFv","BIIB5-5scFv"], "range": ["black","#999999","black","black","#e00000","#0a6e0a","#806a10","#0000e6"]},
      "legend": {"title": null, "orient": "none", "legendX": 235, "legendY": 78, "labelFontSize": 15, "labelFont": "Liberation Sans", "labelFontWeight": "bold", "symbolSize": 196, "symbolStrokeWidth": 2, "symbolOffset": 14, "labelOffset": 15, "rowPadding": -7, "padding": 5, "fillColor": "white", "strokeColor": "black", "symbolOpacity": 1, "labelLimit": 300,
        "labelColor": {"expr": "datum.label == 'BIIB4-5scFv' ? '#e00000' : datum.label == '5scFv-BIIB4' ? '#0a6e0a' : datum.label == 'BIIB5-4scFv' ? '#806a10' : datum.label == 'BIIB5-5scFv' ? '#0000e6' : 'black'"}}}
   }},
  {"data": {"name": "bCurve"}, "mark": {"type": "line", "strokeWidth": 2, "clip": true},
   "encoding": {"stroke": {"field": "s", "type": "nominal"}}},
  {"data": {"name": "bErr"}, "mark": {"type": "errorbar", "ticks": {"size": 7}, "color": "black", "thickness": 2},
   "encoding": {"y2": {"field": "y2"}}},
  {"data": {"name": "bPts"}, "transform": [{"filter": {"field": "s", "oneOf": ["BIIB5","BIIB5 FAb"]}}],
   "mark": {"type": "point", "shape": "square", "filled": true, "size": 140, "strokeWidth": 1.2, "opacity": 1, "clip": true},
   "encoding": {"fill": {"field": "s", "type": "nominal"}, "stroke": {"field": "s", "type": "nominal"}}},
  {"data": {"name": "bPts"}, "transform": [{"filter": {"field": "s", "oneOf": ["BIIB4 FAb","BIIB4","BIIB4-5scFv"]}}],
   "mark": {"type": "point", "shape": "circle", "filled": true, "size": 140, "strokeWidth": 1.2, "opacity": 1, "clip": true},
   "encoding": {"fill": {"field": "s", "type": "nominal"}, "stroke": {"field": "s", "type": "nominal"}}},
  {"data": {"name": "bPts"}, "transform": [{"filter": {"field": "s", "oneOf": ["5scFv-BIIB4"]}}],
   "mark": {"type": "point", "shape": "triangle-up", "filled": true, "size": 140, "strokeWidth": 1.2, "opacity": 1, "clip": true},
   "encoding": {"fill": {"field": "s", "type": "nominal"}, "stroke": {"field": "s", "type": "nominal"}}},
  {"data": {"name": "bPts"}, "transform": [{"filter": {"field": "s", "oneOf": ["BIIB5-4scFv"]}}],
   "mark": {"type": "point", "shape": "diamond", "filled": true, "size": 155, "strokeWidth": 1.2, "opacity": 1, "clip": true},
   "encoding": {"fill": {"field": "s", "type": "nominal"}, "stroke": {"field": "s", "type": "nominal"}}},
  {"data": {"name": "bPts"}, "transform": [{"filter": {"field": "s", "oneOf": ["BIIB5-5scFv"]}}],
   "mark": {"type": "point", "shape": "square", "filled": true, "size": 140, "strokeWidth": 1.2, "opacity": 1, "clip": true},
   "encoding": {"fill": {"field": "s", "type": "nominal"}, "stroke": {"field": "s", "type": "nominal"}}}
 ]
}
], "spacing": 123, "bounds": "flush",
 "resolve": {"scale": {"fill": "independent", "stroke": "independent", "shape": "independent"}, "legend": {"fill": "independent", "stroke": "independent", "shape": "independent"}}},
{"hconcat": [
{
 "width": 393, "height": 273,
 "title": {"text": "C.", "dx": -75, "offset": 22},
 "encoding": {
  "x": {"field": "x", "type": "quantitative", "scale": {"domain": [1, 6.4], "nice": false, "zero": false},
        "axis": {"title": "Log[BsAb, mAb, or FAb (pM)]", "titleX": 196, "titleY": 35, "values": [1,2,3,4,5,6], "tickSize": 6, "labelPadding": 6}},
  "y": {"field": "y", "type": "quantitative", "scale": {"domain": [-0.45, 16.41], "nice": false, "zero": false},
        "axis": {"title": "Fluor₆₆₅ₙₘ*10⁻³ (arbitrary units)", "titleFontSize": 19, "titleX": -50, "titleY": 146, "values": [0,2,4,6,8,10,12,14,16], "tickSize": 7, "labelPadding": 11}}
 },
 "layer": [
  {"data": {"name": "cPts"}, "transform": [{"filter": "false"}], "mark": {"type": "point", "filled": true},
   "encoding": {
    "shape": {"field": "s", "type": "nominal",
      "scale": {"domain": ["BIIB5","BIIB5 FAb","BIIB4","BIIB4 FAb","BIIB4+BIIB5","BIIB4 FAb+BIIB5 FAb","BIIB4-5scFv"], "range": ["M-2.86,0H-0.64M0.64,0H2.86M-0.64,-0.64H0.64V0.64H-0.64Z","M-2.86,0H-0.64M0.64,0H2.86M-0.64,-0.64H0.64V0.64H-0.64Z","M-2.86,0H-0.86M0.86,0H2.86M-0.86,0A0.86,0.86,0,1,0,0.86,0A0.86,0.86,0,1,0,-0.86,0Z","M-2.86,0H-0.86M0.86,0H2.86M-0.86,0A0.86,0.86,0,1,0,0.86,0A0.86,0.86,0,1,0,-0.86,0Z","M-2.86,0H-0.5M0.5,0H2.86M0,0.86L0.9,-0.64L-0.9,-0.64Z","M-2.86,0H-0.5M0.5,0H2.86M0,0.86L0.9,-0.64L-0.9,-0.64Z","M-2.86,0H-0.86M0.86,0H2.86M-0.86,0A0.86,0.86,0,1,0,0.86,0A0.86,0.86,0,1,0,-0.86,0Z"]},
      "legend": {"title": null, "orient": "bottom-left", "offset": 0, "labelFontSize": 13, "labelFont": "Liberation Sans", "labelFontWeight": "bold", "symbolSize": 196, "symbolStrokeWidth": 2, "symbolOffset": 14, "labelOffset": 15, "rowPadding": -8, "padding": 5, "fillColor": "white", "strokeColor": "black", "symbolOpacity": 1, "labelLimit": 300,
        "labelColor": {"expr": "datum.label == 'BIIB4+BIIB5' || datum.label == 'BIIB4 FAb+BIIB5 FAb' ? '#1ebef0' : datum.label == 'BIIB4-5scFv' ? '#cc0000' : 'black'"}}},
    "fill": {"field": "s", "type": "nominal",
      "scale": {"domain": ["BIIB5","BIIB5 FAb","BIIB4","BIIB4 FAb","BIIB4+BIIB5","BIIB4 FAb+BIIB5 FAb","BIIB4-5scFv"], "range": ["black","white","black","white","#1ebef0","white","#cc0000"]},
      "legend": {"title": null, "orient": "bottom-left", "offset": 0, "labelFontSize": 13, "labelFont": "Liberation Sans", "labelFontWeight": "bold", "symbolSize": 196, "symbolStrokeWidth": 2, "symbolOffset": 14, "labelOffset": 15, "rowPadding": -8, "padding": 5, "fillColor": "white", "strokeColor": "black", "symbolOpacity": 1, "labelLimit": 300,
        "labelColor": {"expr": "datum.label == 'BIIB4+BIIB5' || datum.label == 'BIIB4 FAb+BIIB5 FAb' ? '#1ebef0' : datum.label == 'BIIB4-5scFv' ? '#cc0000' : 'black'"}}},
    "stroke": {"field": "s", "type": "nominal",
      "scale": {"domain": ["BIIB5","BIIB5 FAb","BIIB4","BIIB4 FAb","BIIB4+BIIB5","BIIB4 FAb+BIIB5 FAb","BIIB4-5scFv"], "range": ["black","black","black","black","#1ebef0","#1ebef0","#cc0000"]},
      "legend": {"title": null, "orient": "bottom-left", "offset": 0, "labelFontSize": 13, "labelFont": "Liberation Sans", "labelFontWeight": "bold", "symbolSize": 196, "symbolStrokeWidth": 2, "symbolOffset": 14, "labelOffset": 15, "rowPadding": -8, "padding": 5, "fillColor": "white", "strokeColor": "black", "symbolOpacity": 1, "labelLimit": 300,
        "labelColor": {"expr": "datum.label == 'BIIB4+BIIB5' || datum.label == 'BIIB4 FAb+BIIB5 FAb' ? '#1ebef0' : datum.label == 'BIIB4-5scFv' ? '#cc0000' : 'black'"}}}
   }},
  {"data": {"name": "cCurve"}, "mark": {"type": "line", "strokeWidth": 2.5, "clip": true},
   "encoding": {"stroke": {"field": "s", "type": "nominal"}}},
  {"data": {"name": "cErr"}, "mark": {"type": "errorbar", "ticks": {"size": 8}, "color": "black", "thickness": 2},
   "encoding": {"y2": {"field": "y2"}}},
  {"data": {"name": "cPts"}, "transform": [{"filter": {"field": "s", "oneOf": ["BIIB5","BIIB5 FAb"]}}],
   "mark": {"type": "point", "shape": "square", "filled": true, "size": 150, "strokeWidth": 1.3, "opacity": 1, "clip": true},
   "encoding": {"fill": {"field": "s", "type": "nominal"}, "stroke": {"field": "s", "type": "nominal"}}},
  {"data": {"name": "cPts"}, "transform": [{"filter": {"field": "s", "oneOf": ["BIIB4","BIIB4 FAb"]}}],
   "mark": {"type": "point", "shape": "circle", "filled": true, "size": 180, "strokeWidth": 1.3, "opacity": 1, "clip": true},
   "encoding": {"fill": {"field": "s", "type": "nominal"}, "stroke": {"field": "s", "type": "nominal"}}},
  {"data": {"name": "cPts"}, "transform": [{"filter": {"field": "s", "oneOf": ["BIIB4+BIIB5","BIIB4 FAb+BIIB5 FAb"]}}],
   "mark": {"type": "point", "shape": "triangle-down", "filled": true, "size": 170, "strokeWidth": 1.3, "opacity": 1, "clip": true},
   "encoding": {"fill": {"field": "s", "type": "nominal"}, "stroke": {"field": "s", "type": "nominal"}}},
  {"data": {"name": "cPts"}, "transform": [{"filter": {"field": "s", "oneOf": ["BIIB4-5scFv"]}}],
   "mark": {"type": "point", "shape": "circle", "filled": true, "size": 180, "strokeWidth": 1.3, "opacity": 1, "clip": true},
   "encoding": {"fill": {"field": "s", "type": "nominal"}, "stroke": {"field": "s", "type": "nominal"}}}
 ]
},
{
 "width": 376, "height": 273,
 "title": {"text": "D.", "dx": -76, "offset": 22},
 "encoding": {
  "x": {"field": "x", "type": "quantitative", "scale": {"domain": [1, 6.035], "nice": false, "zero": false},
        "axis": {"title": "Log[BsAb (pM)]", "titleX": 188, "titleY": 31, "values": [1,2,3,4,5,6], "tickSize": 6, "labelPadding": 6}},
  "y": {"field": "y", "type": "quantitative", "scale": {"domain": [-0.95, 35], "nice": false, "zero": false},
        "axis": {"title": "Fluor₆₆₅ₙₘ*10⁻³ (arbitrary units)", "titleFontSize": 19, "titleX": -50, "titleY": 146, "values": [0,5,10,15,20,25,30,35], "tickSize": 6, "labelPadding": 1}}
 },
 "layer": [
  {"data": {"name": "dPts"}, "transform": [{"filter": "false"}], "mark": {"type": "point", "filled": true},
   "encoding": {
    "shape": {"field": "s", "type": "nominal",
      "scale": {"domain": ["BIIB4-5scFv","5scFv-BIIB4","BIIB5-4scFv","BIIB5-5scFv"], "range": ["M-2.86,0H-0.86M0.86,0H2.86M-0.86,0A0.86,0.86,0,1,0,0.86,0A0.86,0.86,0,1,0,-0.86,0Z","M-2.86,0H-0.5M0.5,0H2.86M0,-0.86L0.9,0.64L-0.9,0.64Z","M-2.86,0H-0.93M0.93,0H2.86M0,-0.93L0.93,0L0,0.93L-0.93,0Z","M-2.86,0H-0.64M0.64,0H2.86M-0.64,-0.64H0.64V0.64H-0.64Z"]},
      "legend": {"title": null, "orient": "top-right", "offset": 0, "labelFontSize": 15, "labelFont": "Liberation Sans", "labelFontWeight": "bold", "symbolSize": 196, "symbolStrokeWidth": 2, "symbolOffset": 14, "labelOffset": 15, "rowPadding": -7.6, "padding": 6, "fillColor": "white", "strokeColor": "black", "symbolOpacity": 1, "labelLimit": 300,
        "labelColor": {"expr": "datum.label == 'BIIB4-5scFv' ? '#e00000' : datum.label == '5scFv-BIIB4' ? '#157015' : datum.label == 'BIIB5-4scFv' ? '#c9a200' : '#0000e6'"}}},
    "fill": {"field": "s", "type": "nominal",
      "scale": {"domain": ["BIIB4-5scFv","5scFv-BIIB4","BIIB5-4scFv","BIIB5-5scFv"], "range": ["#e00000","#157015","#c9a200","#0000e6"]},
      "legend": {"title": null, "orient": "top-right", "offset": 0, "labelFontSize": 15, "labelFont": "Liberation Sans", "labelFontWeight": "bold", "symbolSize": 196, "symbolStrokeWidth": 2, "symbolOffset": 14, "labelOffset": 15, "rowPadding": -7.6, "padding": 6, "fillColor": "white", "strokeColor": "black", "symbolOpacity": 1, "labelLimit": 300,
        "labelColor": {"expr": "datum.label == 'BIIB4-5scFv' ? '#e00000' : datum.label == '5scFv-BIIB4' ? '#157015' : datum.label == 'BIIB5-4scFv' ? '#c9a200' : '#0000e6'"}}},
    "stroke": {"field": "s", "type": "nominal",
      "scale": {"domain": ["BIIB4-5scFv","5scFv-BIIB4","BIIB5-4scFv","BIIB5-5scFv"], "range": ["#e00000","#157015","#c9a200","#0000e6"]},
      "legend": {"title": null, "orient": "top-right", "offset": 0, "labelFontSize": 15, "labelFont": "Liberation Sans", "labelFontWeight": "bold", "symbolSize": 196, "symbolStrokeWidth": 2, "symbolOffset": 14, "labelOffset": 15, "rowPadding": -7.6, "padding": 6, "fillColor": "white", "strokeColor": "black", "symbolOpacity": 1, "labelLimit": 300,
        "labelColor": {"expr": "datum.label == 'BIIB4-5scFv' ? '#e00000' : datum.label == '5scFv-BIIB4' ? '#157015' : datum.label == 'BIIB5-4scFv' ? '#c9a200' : '#0000e6'"}}}
   }},
  {"data": {"name": "dCurve"}, "mark": {"type": "line", "strokeWidth": 2.5, "clip": true},
   "encoding": {"stroke": {"field": "s", "type": "nominal"}}},
  {"data": {"name": "dErr"}, "mark": {"type": "errorbar", "ticks": {"size": 8}, "color": "black", "thickness": 2},
   "encoding": {"y2": {"field": "y2"}}},
  {"data": {"name": "dPts"}, "transform": [{"filter": {"field": "s", "oneOf": ["BIIB5-5scFv"]}}],
   "mark": {"type": "point", "shape": "square", "filled": true, "size": 150, "strokeWidth": 1.2, "opacity": 1, "clip": true},
   "encoding": {"fill": {"field": "s", "type": "nominal"}, "stroke": {"field": "s", "type": "nominal"}}},
  {"data": {"name": "dPts"}, "transform": [{"filter": {"field": "s", "oneOf": ["BIIB4-5scFv"]}}],
   "mark": {"type": "point", "shape": "circle", "filled": true, "size": 150, "strokeWidth": 1.2, "opacity": 1, "clip": true},
   "encoding": {"fill": {"field": "s", "type": "nominal"}, "stroke": {"field": "s", "type": "nominal"}}},
  {"data": {"name": "dPts"}, "transform": [{"filter": {"field": "s", "oneOf": ["5scFv-BIIB4"]}}],
   "mark": {"type": "point", "shape": "triangle-up", "filled": true, "size": 150, "strokeWidth": 1.2, "opacity": 1, "clip": true},
   "encoding": {"fill": {"field": "s", "type": "nominal"}, "stroke": {"field": "s", "type": "nominal"}}},
  {"data": {"name": "dPts"}, "transform": [{"filter": {"field": "s", "oneOf": ["BIIB5-4scFv"]}}],
   "mark": {"type": "point", "shape": "diamond", "filled": true, "size": 165, "strokeWidth": 1.2, "opacity": 1, "clip": true},
   "encoding": {"fill": {"field": "s", "type": "nominal"}, "stroke": {"field": "s", "type": "nominal"}}}
 ]
}
], "spacing": 104, "bounds": "flush",
 "resolve": {"scale": {"fill": "independent", "stroke": "independent", "shape": "independent"}, "legend": {"fill": "independent", "stroke": "independent", "shape": "independent"}}}
]
}
